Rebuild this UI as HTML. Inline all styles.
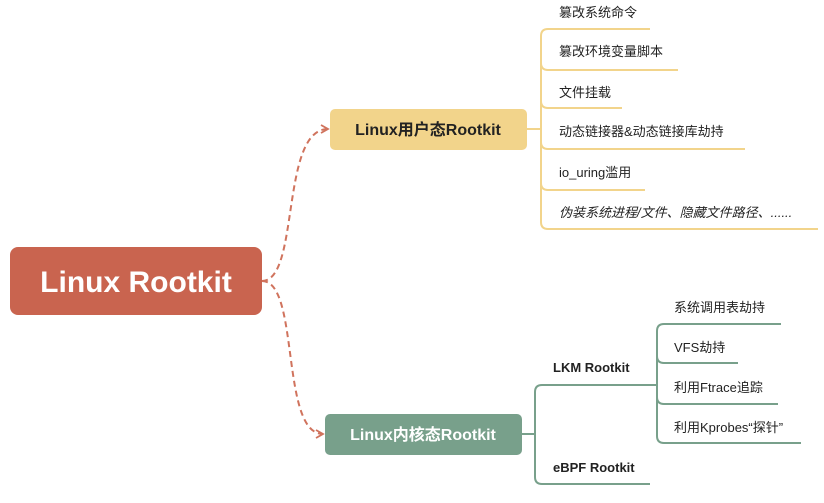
<!DOCTYPE html>
<html><head><meta charset="utf-8"><style>
body{margin:0;width:824px;height:498px;background:#fff;overflow:hidden;font-family:"Liberation Sans","Noto Sans CJK SC",sans-serif}
</style></head><body>
<svg width="824" height="498" xmlns="http://www.w3.org/2000/svg" style="font-family:'Liberation Sans','Noto Sans CJK SC',sans-serif">
<defs><marker id="a" markerWidth="10" markerHeight="10" refX="8" refY="5" orient="auto" markerUnits="userSpaceOnUse"><path d="M1,1 L8,5 L1,9" fill="none" stroke="#d0735d" stroke-width="1.8"/></marker></defs>
<path d="M262,281 C300,281 280,129 328,129" fill="none" stroke="#d0735d" stroke-width="2" stroke-dasharray="6,4" marker-end="url(#a)"/>
<path d="M262,281 C300,281 280,434 323,434" fill="none" stroke="#d0735d" stroke-width="2" stroke-dasharray="6,4" marker-end="url(#a)"/>
<rect x="10" y="247" width="252" height="68" rx="8" fill="#c9644f"/>
<text x="136" y="292" text-anchor="middle" font-size="30" font-weight="bold" fill="#fff">Linux Rootkit</text>
<rect x="330" y="109" width="197" height="41" rx="5" fill="#f2d48b"/>
<text x="428" y="135" text-anchor="middle" font-size="16" font-weight="bold" fill="#222">Linux用户态Rootkit</text>
<rect x="325" y="414" width="197" height="41" rx="5" fill="#78a08b"/>
<text x="423" y="440" text-anchor="middle" font-size="16" font-weight="bold" fill="#fff">Linux内核态Rootkit</text>
<g fill="none" stroke="#f2d48b" stroke-width="2">
<path d="M527,129 H541"/>
<path d="M650,29 H548 Q541,29 541,36 V222 Q541,229 548,229 H818"/>
<path d="M541,63 Q541,70 548,70 H678"/>
<path d="M541,101 Q541,108 548,108 H622"/>
<path d="M541,142 Q541,149 548,149 H745"/>
<path d="M541,183 Q541,190 548,190 H645"/>
</g>
<g font-size="13" fill="#222">
<text x="559" y="17">篡改系统命令</text>
<text x="559" y="56">篡改环境变量脚本</text>
<text x="559" y="97">文件挂载</text>
<text x="559" y="136">动态链接器&amp;动态链接库劫持</text>
<text x="559" y="177">io_uring滥用</text>
<text x="559" y="217" font-style="italic">伪装系统进程/文件、隐藏文件路径、......</text>
</g>
<g fill="none" stroke="#78a08b" stroke-width="2">
<path d="M522,434 H535"/>
<path d="M652,385 H542 Q535,385 535,392 V477 Q535,484 542,484 H650"/>
<path d="M652,385 H657"/>
<path d="M781,324 H664 Q657,324 657,331 V436 Q657,443 664,443 H801"/>
<path d="M657,356 Q657,363 664,363 H738"/>
<path d="M657,397 Q657,404 664,404 H778"/>
</g>
<g font-size="13" font-weight="bold" fill="#222">
<text x="553" y="372">LKM Rootkit</text>
<text x="553" y="472">eBPF Rootkit</text>
</g>
<g font-size="13" fill="#222">
<text x="674" y="312">系统调用表劫持</text>
<text x="674" y="352">VFS劫持</text>
<text x="674" y="392">利用Ftrace追踪</text>
<text x="674" y="432">利用Kprobes“探针”</text>
</g>
</svg>
</body></html>
